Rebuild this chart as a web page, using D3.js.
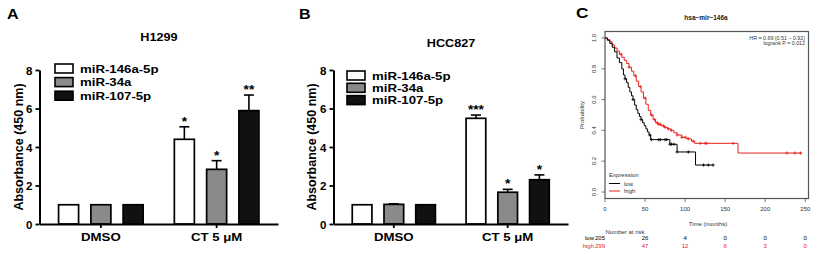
<!DOCTYPE html>
<html><head><meta charset="utf-8">
<script src="https://cdn.jsdelivr.net/npm/d3@7"></script>
<style>body{margin:0;background:#fff} svg{display:block}</style>
</head><body><script>
// ---- bar chart data (panels A, B)
const groups = ["DMSO", "CT 5 μM"];
const seriesNames = ["miR-146a-5p", "miR-34a", "miR-107-5p"];
const seriesFill = ["#ffffff", "#8a8a8a", "#111111"];
const yTicksBar = [0, 2, 4, 6, 8];

const h1299Mean = [[1, 1, 1], [4.40, 2.84, 5.89]];
const h1299Err  = [[0, 0, 0], [0.65, 0.45, 0.81]];
const h1299Sig  = [["", "", ""], ["*", "*", "**"]];

const hcc827Mean = [[1, 1.02, 1], [5.49, 1.65, 2.30]];
const hcc827Err  = [[0, 0.03, 0], [0.17, 0.15, 0.25]];
const hcc827Sig  = [["", "", ""], ["***", "*", "*"]];

// ---- survival data (panel C)
const lowTime = [0,3,6,9,12,15,18,21,23,25,27,29,31,33,35,37,39,41,43,45,47,49,51,53,55,57,81,90,113,135];
const lowSurv = [1,0.985,0.965,0.94,0.91,0.87,0.84,0.80,0.76,0.735,0.71,0.68,0.65,0.625,0.60,0.565,0.535,0.51,0.49,0.47,0.45,0.43,0.41,0.39,0.37,0.34,0.31,0.26,0.175,0.175];
const highTime = [0,3,6,9,12,15,18,21,24,27,30,33,36,39,42,45,48,51,54,57,60,63,66,70,74,78,82,86,90,96,102,108,112,166,246];
const highSurv = [1,0.99,0.975,0.955,0.935,0.915,0.895,0.875,0.855,0.835,0.81,0.785,0.755,0.72,0.685,0.65,0.61,0.57,0.53,0.50,0.47,0.45,0.44,0.43,0.42,0.41,0.40,0.385,0.37,0.355,0.345,0.33,0.316,0.253,0.253];
const lowCensor = [25,35,45,56,58,67,69,75,77,81,83,86,90,104,123,129,135];
const highCensor = [20,30,38,44,50,58,62,65,67,69,73,75,79,83,90,96,100,104,110,119,125,127,160,227,237,244];
const kmTicksX = [0, 50, 100, 150, 200, 250];
const kmTicksY = [0, 0.2, 0.4, 0.6, 0.8, 1];
const riskLow = [205, 26, 4, 0, 0, 0];
const riskHigh = [299, 47, 12, 6, 3, 0];

const W = 824, H = 254;
const svg = d3.select("body").append("svg").attr("width", W).attr("height", H)
    .style("font-family", "'Liberation Sans', Arial, sans-serif");

// text helper (the source figure is a bit stretched horizontally)
function txt(g, x, y, s, o) {
    let tr = `translate(${x},${y})`;
    if (o.rot) tr += ` rotate(${o.rot})`;
    if (o.sx) tr += ` scale(${o.sx},1)`;
    return g.append("text").attr("transform", tr)
        .attr("text-anchor", o.anchor || "start")
        .attr("font-size", o.size)
        .attr("font-weight", o.bold ? "bold" : "normal")
        .attr("fill", o.fill || "#000")
        .text(s);
}

const SX = 1.15;

function barPanel(cfg, mean, err, sig) {
    const g = svg.append("g");
    const y = d3.scaleLinear().domain([0, 8]).range([224, 70]);
    const x = d3.scaleBand().domain(groups).range([cfg.x0, cfg.x1]).paddingInner(0.25).paddingOuter(0.155);
    const xi = d3.scaleBand().domain(seriesNames).range([0, x.bandwidth()]).paddingInner(0.38).paddingOuter(0.035);

    txt(g, cfg.letterX, 19, cfg.letter, {size: 14, bold: true, sx: SX});
    txt(g, cfg.titleX, cfg.titleY, cfg.title, {size: 11, bold: true, anchor: "middle", sx: SX});

    // bars
    groups.forEach((grp, gi) => {
        seriesNames.forEach((s, si) => {
            const bx = x(grp) + xi(s), bw = xi.bandwidth();
            const v = mean[gi][si], e = err[gi][si];
            g.append("rect").attr("x", bx).attr("y", y(v)).attr("width", bw).attr("height", y(0) - y(v))
                .attr("fill", seriesFill[si]).attr("stroke", "#000").attr("stroke-width", 1.7);
            if (e > 0) {
                const cx = bx + bw / 2;
                g.append("line").attr("x1", cx).attr("x2", cx).attr("y1", y(v)).attr("y2", y(v + e))
                    .attr("stroke", "#000").attr("stroke-width", 1.6);
                g.append("line").attr("x1", cx - 5).attr("x2", cx + 5).attr("y1", y(v + e)).attr("y2", y(v + e))
                    .attr("stroke", "#000").attr("stroke-width", 1.6);
            }
            if (sig[gi][si]) {
                txt(g, bx + bw / 2, y(v + e) - 1, sig[gi][si], {size: 12, bold: true, anchor: "middle", sx: SX});
            }
        });
    });

    // axes
    const ya = g.append("g").attr("transform", `translate(${cfg.x0},0)`)
        .call(d3.axisLeft(y).tickValues(yTicksBar).tickSize(4).tickSizeOuter(0).tickPadding(3));
    const xa = g.append("g").attr("transform", `translate(0,${y(0)})`)
        .call(d3.axisBottom(x).tickSize(4).tickSizeOuter(0).tickPadding(5));
    [ya, xa].forEach(a => {
        a.select(".domain").attr("stroke-width", 2);
        a.selectAll(".tick line").attr("stroke-width", 1.8);
        a.selectAll("text").attr("font-size", 11.5).attr("font-weight", "bold")
            .attr("font-family", "'Liberation Sans', Arial, sans-serif");
    });
    xa.selectAll(".tick text").attr("transform", `scale(${SX},1)`);
    ya.selectAll(".tick text").attr("dy", "0.36em");

    txt(g, cfg.ytitleX, 147, "Absorbance (450 nm)", {size: 12.5, bold: true, anchor: "middle", rot: -90});

    // legend
    seriesNames.forEach((s, i) => {
        const ly = cfg.legY + i * cfg.legStep;
        g.append("rect").attr("x", cfg.legX).attr("y", ly - 4.5).attr("width", 18).attr("height", 9)
            .attr("fill", seriesFill[i]).attr("stroke", "#000").attr("stroke-width", 1.6);
        txt(g, cfg.legX + 25, ly + 4.3, s, {size: 11.5, bold: true, sx: SX});
    });
}

barPanel({x0: 39.5, x1: 278, letter: "A", letterX: 7, title: "H1299", titleX: 159, titleY: 41,
          ytitleX: 23, legX: 55, legY: 68.5, legStep: 13.6}, h1299Mean, h1299Err, h1299Sig);
barPanel({x0: 333.5, x1: 568, letter: "B", letterX: 299, title: "HCC827", titleX: 451, titleY: 47,
          ytitleX: 316, legX: 347, legY: 75.5, legStep: 12.3}, hcc827Mean, hcc827Err, hcc827Sig);

// ---- panel C : Kaplan-Meier
(function () {
    const g = svg.append("g").attr("font-family", "'Liberation Sans', Arial, sans-serif");
    const x = d3.scaleLinear().domain([0, 254]).range([605, 808.5]);
    const y = d3.scaleLinear().domain([0, 1]).range([192, 38]);
    const red = "#e8231d", grey = "#333";

    txt(g, 576, 18, "C", {size: 15, bold: true, sx: SX});
    txt(g, 706, 20, "hsa\u2212mir\u2212146a", {size: 6.5, bold: true, anchor: "middle", fill: "#222"});

    g.append("rect").attr("x", 605).attr("y", 31.5).attr("width", 203.5).attr("height", 167)
        .attr("fill", "none").attr("stroke", "#555").attr("stroke-width", 1.2);

    // curves
    const line = d3.line().x(d => x(d[0])).y(d => y(d[1])).curve(d3.curveStepAfter);
    const lowPts = lowTime.map((t, i) => [t, lowSurv[i]]);
    const highPts = highTime.map((t, i) => [t, highSurv[i]]);
    const stepAt = (pts, t) => { let v = pts[0][1]; pts.forEach(p => { if (p[0] <= t) v = p[1]; }); return v; };

    [[highPts, highCensor, red], [lowPts, lowCensor, "#000"]].forEach(([pts, cens, col]) => {
        g.append("path").attr("d", line(pts)).attr("fill", "none").attr("stroke", col).attr("stroke-width", 1);
        cens.forEach(t => {
            const cx = x(t), cy = y(stepAt(pts, t));
            g.append("path").attr("d", `M${cx - 1.6},${cy}H${cx + 1.6}M${cx},${cy - 1.6}V${cy + 1.6}`)
                .attr("stroke", col).attr("stroke-width", 0.8);
        });
    });

    // axes
    kmTicksX.forEach(t => {
        g.append("line").attr("x1", x(t)).attr("x2", x(t)).attr("y1", 198.5).attr("y2", 202)
            .attr("stroke", "#555").attr("stroke-width", 0.8);
        txt(g, x(t), 211, t, {size: 6, anchor: "middle", fill: grey});
    });
    kmTicksY.forEach(v => {
        g.append("line").attr("x1", 601.5).attr("x2", 605).attr("y1", y(v)).attr("y2", y(v))
            .attr("stroke", "#555").attr("stroke-width", 0.8);
        txt(g, 596, y(v), d3.format(".1f")(v), {size: 6, anchor: "middle", rot: -90, fill: grey});
    });
    txt(g, 584, 115, "Probability", {size: 6, anchor: "middle", rot: -90, fill: grey});
    txt(g, 708, 225.5, "Time (months)", {size: 6, anchor: "middle", fill: grey});

    // HR text
    txt(g, 805, 39.5, "HR = 0.69 (0.51 \u2212 0.92)", {size: 5.3, anchor: "end", fill: grey});
    txt(g, 805, 44.8, "logrank P = 0.012", {size: 5.3, anchor: "end", fill: grey});

    // legend
    txt(g, 609, 177, "Expression", {size: 6, fill: grey});
    [["low", "#000"], ["high", red]].forEach(([lab, col], i) => {
        const ly = 183.5 + i * 7.5;
        g.append("line").attr("x1", 609).attr("x2", 620).attr("y1", ly).attr("y2", ly)
            .attr("stroke", col).attr("stroke-width", 1);
        txt(g, 624, ly + 2, lab, {size: 6, fill: grey});
    });

    // number at risk
    txt(g, 625, 233.5, "Number at risk", {size: 6, anchor: "middle", fill: grey});
    [["low", riskLow, "#000"], ["high", riskHigh, red]].forEach(([lab, vals, col], i) => {
        const ry = 239.5 + i * 8.3;
        txt(g, 594, ry, lab, {size: 6, anchor: "end", fill: col});
        vals.forEach((v, k) => txt(g, x(kmTicksX[k]) - (k === 0 ? 5 : 0), ry, v, {size: 6, anchor: "middle", fill: col}));
    });
})();
</script></body></html>
